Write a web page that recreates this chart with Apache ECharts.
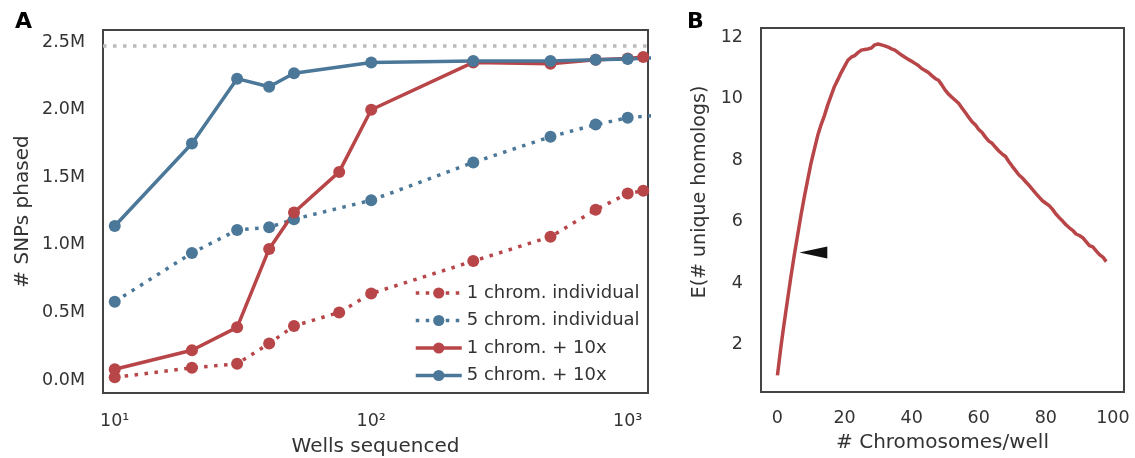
<!DOCTYPE html>
<html>
<head>
	<meta charset="UTF-8">
	<title>SNPs phased / unique homologs</title>
	<script src="https://cdn.jsdelivr.net/npm/echarts@6/dist/echarts.min.js"></script>
	<style>
		html, body { margin: 0; padding: 0; background: #fff; }
		#chart { width: 1135px; height: 458px; }
	</style>
</head>
<body>
<div id="chart"></div>
<script type="text/javascript">
	// panel A: wells sequenced (log x), SNPs phased in millions
	var wellsRed = [10, 20, 30, 40, 50, 75, 100, 250, 500, 750, 1000, 1150];
	var oneChromIndividual = [0.02, 0.09, 0.12, 0.27, 0.40, 0.50, 0.64, 0.88, 1.06, 1.26, 1.38, 1.40];
	var oneChrom10x = [0.08, 0.22, 0.39, 0.97, 1.24, 1.54, 2.00, 2.35, 2.34, 2.37, 2.38, 2.39];

	var wellsBlue = [10, 20, 30, 40, 50, 100, 250, 500, 750, 1000, 1300];
	var fiveChromIndividual = [0.58, 0.94, 1.11, 1.13, 1.19, 1.33, 1.61, 1.80, 1.89, 1.94, 1.96];
	var fiveChrom10x = [1.14, 1.75, 2.23, 2.17, 2.27, 2.35, 2.36, 2.36, 2.37, 2.375, 2.385];

	var totalSnps = 2.47; // grey dotted reference line

	// panel B: expected unique homologs for 0..98 chromosomes per well
	var uniqueHomologs = [
		1.0, 1.9, 2.7, 3.45, 4.2, 4.9, 5.55, 6.2, 6.8, 7.35,
		7.9, 8.35, 8.8, 9.15, 9.45, 9.8, 10.1, 10.4, 10.62, 10.85,
		11.05, 11.25, 11.35, 11.4, 11.5, 11.58, 11.6, 11.62, 11.65, 11.75,
		11.78, 11.75, 11.72, 11.68, 11.62, 11.58, 11.5, 11.42, 11.35, 11.28,
		11.22, 11.15, 11.08, 10.98, 10.92, 10.85, 10.75, 10.66, 10.6, 10.45,
		10.28, 10.15, 10.05, 9.95, 9.85, 9.7, 9.55, 9.4, 9.25, 9.15,
		9.0, 8.9, 8.75, 8.62, 8.55, 8.42, 8.3, 8.2, 8.12, 7.95,
		7.8, 7.66, 7.52, 7.42, 7.3, 7.18, 7.05, 6.92, 6.8, 6.68,
		6.6, 6.52, 6.4, 6.25, 6.13, 6.02, 5.9, 5.8, 5.72, 5.6,
		5.55, 5.48, 5.35, 5.22, 5.18, 5.05, 4.93, 4.85, 4.7
	];
	var arrowAt = [10.7, 5.0];

	var red = '#b84548';
	var blue = '#4b7798';
	var font = 'DejaVu Sans';
	var txt = '#333';

	function pairs(xs, ys) {
		return xs.map(function (x, i) { return [x, ys[i]]; });
	}
	var sup = { '1': '\u00b9', '2': '\u00b2', '3': '\u00b3' };

	var myChart = echarts.init(document.getElementById('chart'));

	var option = {
		animation: false,
		textStyle: { fontFamily: font },
		title: [
			{ text: 'A', left: 10, top: 6, textStyle: { fontSize: 22, fontWeight: 'bold', color: '#000', fontFamily: font } },
			{ text: 'B', left: 682, top: 6, textStyle: { fontSize: 22, fontWeight: 'bold', color: '#000', fontFamily: font } }
		],
		grid: [
			{ left: 103, right: 487, top: 30, bottom: 65, show: true, borderColor: '#444', borderWidth: 2, outerBoundsMode: 'none' },
			{ left: 761, right: 11, top: 28, bottom: 66, show: true, borderColor: '#444', borderWidth: 2, outerBoundsMode: 'none' }
		],
		legend: {
			orient: 'vertical',
			left: 414,
			top: 284,
			padding: 0,
			itemWidth: 46,
			itemHeight: 14,
			itemGap: 9.5,
			lineStyle: { width: 3.5 },
			data: ['1 chrom. individual', '5 chrom. individual', '1 chrom. + 10x', '5 chrom. + 10x'],
			textStyle: { fontSize: 18, color: txt, fontFamily: font }
		},
		xAxis: [
			{
				gridIndex: 0, type: 'log', min: 9, max: 1200,
				name: 'Wells sequenced', nameLocation: 'middle', nameGap: 44,
				nameTextStyle: { fontSize: 20, color: txt },
				axisLine: { show: false }, axisTick: { show: false },
				splitLine: { show: false }, minorTick: { show: false },
				axisLabel: {
					fontSize: 17.5, color: txt, margin: 19,
					formatter: function (v) {
						var e = Math.log10(v);
						if (Math.abs(e - Math.round(e)) > 1e-6) return '';
						return '10' + sup[String(Math.round(e))];
					}
				}
			},
			{
				gridIndex: 1, type: 'value', min: -4.9, max: 103.3,
				name: '# Chromosomes/well', nameLocation: 'middle', nameGap: 41,
				nameTextStyle: { fontSize: 20, color: txt },
				axisLine: { show: false }, axisTick: { show: false },
				splitLine: { show: false },
				axisLabel: {
					fontSize: 17.5, color: txt, margin: 17,
					formatter: function (v) {
						return Math.abs(v % 20) < 1e-6 ? String(v) : '';
					}
				}
			}
		],
		yAxis: [
			{
				gridIndex: 0, type: 'value', min: -0.096, max: 2.59,
				name: '# SNPs phased', nameLocation: 'middle', nameGap: 70,
				nameTextStyle: { fontSize: 20, color: txt },
				axisLine: { show: false }, axisTick: { show: false },
				splitLine: { show: false },
				axisLabel: {
					fontSize: 17.5, color: txt, margin: 18,
					formatter: function (v) {
						var k = v / 0.5;
						if (Math.abs(k - Math.round(k)) > 1e-6) return '';
						return (Math.round(k) * 0.5).toFixed(1) + 'M';
					}
				}
			},
			{
				gridIndex: 1, type: 'value', min: 0.46, max: 12.3,
				name: 'E(# unique homologs)', nameLocation: 'middle', nameGap: 51,
				nameTextStyle: { fontSize: 19, color: txt, padding: [0, 0, 0, 36] },
				axisLine: { show: false }, axisTick: { show: false },
				splitLine: { show: false },
				axisLabel: {
					fontSize: 17.5, color: txt, margin: 18,
					formatter: function (v) {
						return Math.abs(v % 2) < 1e-6 ? String(v) : '';
					}
				}
			}
		],
		series: [
			{
				name: '1 chrom. individual', type: 'line', xAxisIndex: 0, yAxisIndex: 0,
				data: pairs(wellsRed, oneChromIndividual),
				symbol: 'circle', symbolSize: 12, itemStyle: { color: red },
				lineStyle: { color: red, width: 3.5, type: [3.5, 6.5] },
				markLine: {
					silent: true, symbol: 'none', label: { show: false },
					lineStyle: { color: '#bbbbbb', width: 3.5, type: [3.5, 6.5] },
					data: [{ yAxis: totalSnps }]
				}
			},
			{
				name: '5 chrom. individual', type: 'line', xAxisIndex: 0, yAxisIndex: 0,
				data: pairs(wellsBlue, fiveChromIndividual),
				symbol: 'circle', symbolSize: 12, itemStyle: { color: blue },
				lineStyle: { color: blue, width: 3.5, type: [3.5, 6.5] }
			},
			{
				name: '1 chrom. + 10x', type: 'line', xAxisIndex: 0, yAxisIndex: 0,
				data: pairs(wellsRed, oneChrom10x),
				symbol: 'circle', symbolSize: 12, itemStyle: { color: red },
				lineStyle: { color: red, width: 3.5 }
			},
			{
				name: '5 chrom. + 10x', type: 'line', xAxisIndex: 0, yAxisIndex: 0,
				data: pairs(wellsBlue, fiveChrom10x),
				symbol: 'circle', symbolSize: 12, itemStyle: { color: blue },
				lineStyle: { color: blue, width: 3.5 }
			},
			{
				name: 'homologs', type: 'line', xAxisIndex: 1, yAxisIndex: 1,
				data: uniqueHomologs.map(function (v, i) { return [i, v]; }),
				showSymbol: false, symbol: 'none',
				lineStyle: { color: red, width: 3.5 }
			},
			{
				name: 'arrow', type: 'scatter', xAxisIndex: 1, yAxisIndex: 1,
				data: [arrowAt],
				symbol: 'triangle', symbolRotate: 90, symbolSize: [12, 28],
				itemStyle: { color: '#111', opacity: 1 }
			}
		]
	};
	myChart.setOption(option);
</script>
</body>
</html>
